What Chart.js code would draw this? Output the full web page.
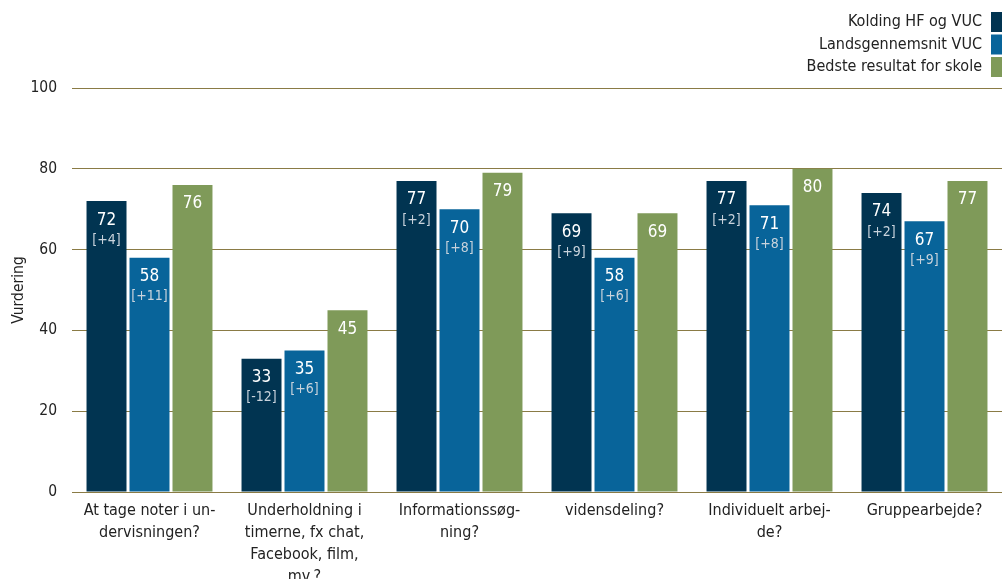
<!DOCTYPE html>
<html>
<head>
<meta charset="utf-8">
<script src="https://cdn.jsdelivr.net/npm/chart.js@4"></script>
<style>
  html, body { margin: 0; padding: 0; background: #fff; }
  #wrap { width: 1002px; height: 579px; position: relative; }
</style>
</head>
<body>
<div id="wrap"><canvas id="barChart"></canvas></div>
<script>
// data
const categories = [
    ['At tage noter i un-', 'dervisningen?'],
    ['Underholdning i', 'timerne, fx chat,', 'Facebook, film,', 'mv.?'],
    ['Informationssøg-', 'ning?'],
    ['vidensdeling?'],
    ['Individuelt arbej-', 'de?'],
    ['Gruppearbejde?']
];
const seriesNames = ['Kolding HF og VUC', 'Landsgennemsnit VUC', 'Bedste resultat for skole'];
const koldingValues = [72, 33, 77, 69, 77, 74];
const landsValues = [58, 35, 70, 58, 71, 67];
const bedsteValues = [76, 45, 79, 69, 80, 77];
const koldingDiff = ['[+4]', '[-12]', '[+2]', '[+9]', '[+2]', '[+2]'];
const landsDiff = ['[+11]', '[+6]', '[+8]', '[+6]', '[+8]', '[+9]'];
const yTicks = [0, 20, 40, 60, 80, 100];

const colors = ['#013451', '#08649A', '#7F9A59'];
const FONT = '"DejaVu Sans Condensed", "DejaVu Sans"';

// value + [diff] inside the top of every bar
const barLabels = {
    id: 'barLabels',
    afterDatasetsDraw(chart) {
        const ctx = chart.ctx;
        const diffs = [koldingDiff, landsDiff, null];
        chart.data.datasets.forEach(function (ds, i) {
            const meta = chart.getDatasetMeta(i);
            meta.data.forEach(function (bar, j) {
                ctx.save();
                ctx.textAlign = 'center';
                ctx.textBaseline = 'middle';
                ctx.fillStyle = '#ffffff';
                ctx.font = '17px ' + FONT;
                ctx.fillText(ds.data[j], bar.x, bar.y + 19);
                if (diffs[i]) {
                    ctx.fillStyle = '#c9d3dc';
                    ctx.font = '14px ' + FONT;
                    ctx.fillText(diffs[i][j], bar.x, bar.y + 39);
                }
                ctx.restore();
            });
        });
    }
};

// legend: text right aligned, colour block at the far right
const sideLegend = {
    id: 'sideLegend',
    afterDraw(chart) {
        const ctx = chart.ctx;
        const right = chart.width;
        ctx.save();
        ctx.font = '16px ' + FONT;
        ctx.textAlign = 'right';
        ctx.textBaseline = 'middle';
        seriesNames.forEach(function (name, i) {
            const top = 12 + i * 22.5;
            ctx.fillStyle = colors[i];
            ctx.fillRect(right - 11, top, 11, 20);
            ctx.fillStyle = '#222';
            ctx.fillText(name, right - 20, top + 10);
        });
        ctx.restore();
    }
};

function makeSet(label, data, color) {
    return {
        label: label,
        data: data,
        backgroundColor: color,
        borderWidth: 0,
        barPercentage: 0.93,
        categoryPercentage: 0.832
    };
}

var ctx = document.getElementById('barChart').getContext('2d');
var chart = new Chart(ctx, {
    type: 'bar',
    data: {
        labels: categories,
        datasets: [
            makeSet(seriesNames[0], koldingValues, colors[0]),
            makeSet(seriesNames[1], landsValues, colors[1]),
            makeSet(seriesNames[2], bedsteValues, colors[2])
        ]
    },
    options: {
        responsive: true,
        maintainAspectRatio: false,
        animation: false,
        layout: { padding: { top: 88, right: 0, left: 0, bottom: 0 } },
        plugins: {
            legend: { display: false },
            tooltip: { enabled: false }
        },
        scales: {
            x: {
                grid: { display: false },
                border: { display: false },
                ticks: {
                    color: '#222',
                    font: { family: FONT, size: 16, lineHeight: 1.38 },
                    padding: 0,
                    maxRotation: 0,
                    autoSkip: false
                },
                afterFit: function (scale) { scale.height = 87; }
            },
            y: {
                min: 0,
                max: 100,
                afterBuildTicks: function (scale) {
                    scale.ticks = yTicks.map(function (v) { return { value: v }; });
                },
                grid: { color: '#8A7B45', lineWidth: 1, drawTicks: false },
                border: { display: false },
                ticks: {
                    color: '#222',
                    font: { family: FONT, size: 15.5 },
                    padding: 15
                },
                title: {
                    display: true,
                    text: 'Vurdering',
                    color: '#222',
                    font: { family: FONT, size: 15.5 },
                    padding: { top: 10, bottom: 0 }
                },
                afterFit: function (scale) { scale.width = 72; }
            }
        }
    },
    plugins: [barLabels, sideLegend]
});
</script>
</body>
</html>
